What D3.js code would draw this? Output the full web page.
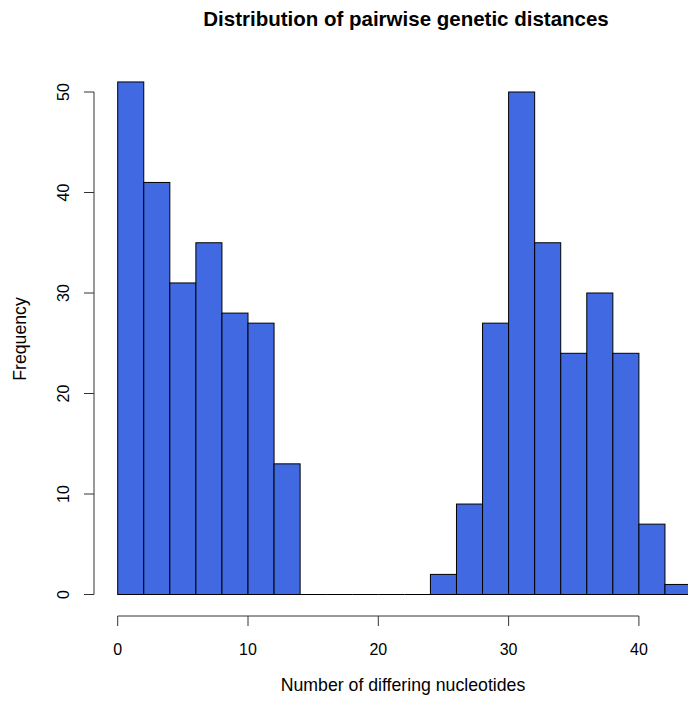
<!DOCTYPE html>
<html>
<head>
<meta charset="utf-8">
<script src="https://cdn.jsdelivr.net/npm/d3@7"></script>
<style>
  html, body { margin: 0; padding: 0; background: #fff; }
  svg { display: block; font-family: "Liberation Sans", Arial, sans-serif; }
</style>
</head>
<body>
<svg id="chart" width="688" height="702"></svg>
<script>
// Histogram bins (width 2) and their counts
const binStarts = [0, 2, 4, 6, 8, 10, 12, 14, 16, 18, 20, 22, 24, 26, 28, 30, 32, 34, 36, 38, 40, 42];
const binWidth = 2;
const counts = [51, 41, 31, 35, 28, 27, 13, 0, 0, 0, 0, 0, 2, 9, 27, 50, 35, 24, 30, 24, 7, 1];
const xTicks = [0, 10, 20, 30, 40];
const yTicks = [0, 10, 20, 30, 40, 50];

const svg = d3.select("#chart");

const x = d3.scaleLinear().domain([0, 40]).range([117.7, 638.9]);
const y = d3.scaleLinear().domain([0, 50]).range([594.5, 92]);

// Bars
svg.append("g")
  .selectAll("rect")
  .data(binStarts.map((s, i) => ({ s, c: counts[i] })))
  .join("rect")
  .attr("x", d => x(d.s))
  .attr("y", d => y(d.c))
  .attr("width", d => x(d.s + binWidth) - x(d.s))
  .attr("height", d => y(0) - y(d.c))
  .attr("fill", "#4169E1")
  .attr("stroke", "#000")
  .attr("stroke-width", 1);

// Zero-height bins still draw as a baseline segment
svg.append("g")
  .selectAll("line")
  .data(binStarts.filter((s, i) => counts[i] === 0))
  .join("line")
  .attr("x1", d => x(d)).attr("x2", d => x(d + binWidth))
  .attr("y1", y(0)).attr("y2", y(0))
  .attr("stroke", "#000").attr("stroke-width", 1);

// X axis
const xAxisY = 616;
const gx = svg.append("g").attr("transform", `translate(0,${xAxisY})`);
gx.append("line")
  .attr("x1", x(xTicks[0])).attr("x2", x(xTicks[xTicks.length - 1]))
  .attr("stroke", "#333");
gx.selectAll("line.tick").data(xTicks).join("line")
  .attr("class", "tick")
  .attr("x1", d => x(d)).attr("x2", d => x(d))
  .attr("y1", 0).attr("y2", 10)
  .attr("stroke", "#333");
gx.selectAll("text").data(xTicks).join("text")
  .attr("x", d => x(d)).attr("y", 39)
  .attr("text-anchor", "middle")
  .attr("font-size", 16)
  .text(d => d);

// Y axis
const yAxisX = 94;
const gy = svg.append("g").attr("transform", `translate(${yAxisX},0)`);
gy.append("line")
  .attr("y1", y(yTicks[0])).attr("y2", y(yTicks[yTicks.length - 1]))
  .attr("stroke", "#333");
gy.selectAll("line.tick").data(yTicks).join("line")
  .attr("class", "tick")
  .attr("y1", d => y(d)).attr("y2", d => y(d))
  .attr("x1", 0).attr("x2", -10)
  .attr("stroke", "#333");
gy.selectAll("text").data(yTicks).join("text")
  .attr("transform", d => `translate(-25,${y(d)}) rotate(-90)`)
  .attr("text-anchor", "middle")
  .attr("font-size", 16)
  .text(d => d);

// Titles
svg.append("text")
  .attr("x", 406).attr("y", 26)
  .attr("text-anchor", "middle")
  .attr("font-size", 20.5)
  .attr("font-weight", "bold")
  .text("Distribution of pairwise genetic distances");

svg.append("text")
  .attr("x", 403).attr("y", 691)
  .attr("text-anchor", "middle")
  .attr("font-size", 17.7)
  .text("Number of differing nucleotides");

svg.append("text")
  .attr("transform", "translate(26,339) rotate(-90)")
  .attr("text-anchor", "middle")
  .attr("font-size", 17.7)
  .text("Frequency");
</script>
</body>
</html>
